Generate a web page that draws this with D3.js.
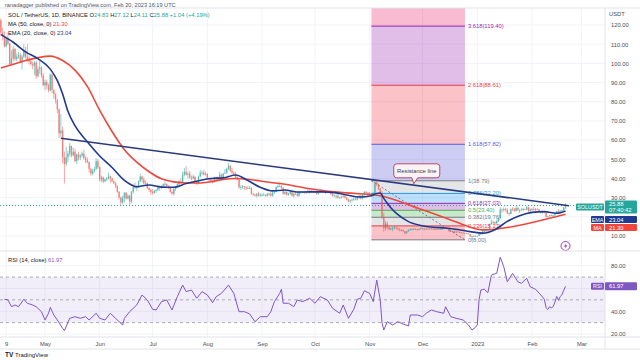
<!DOCTYPE html>
<html>
<head>
<meta charset="utf-8">
<script src="https://cdn.jsdelivr.net/npm/d3@7"></script>
<style>
  html, body { margin: 0; padding: 0; background: #fff; }
  svg { display: block; font-family: 'Liberation Sans', Arial, sans-serif; }
</style>
</head>
<body>
<div id="chart"></div>
<script>
// ── SOL / TetherUS 1D — candles, MA50, EMA20, fib, RSI ─────────────

// Daily candles from 2022-04-06 to 2023-02-20 (open = previous close)
const firstDay = '2022-04-06';
const firstOpen = 122.5;

const closes = [
  116.0,114.3,108.9,113.2,110.3,99.6,102.5,107.4,102.3,103.6,104.2,100.8,103.5,106.5,103.5,101.8,101.0,99.6,98.9,100.4,93.3,97.0,97.9,93.6,88.6,
  90.2,88.6,85.9,94.1,86.1,84.0,80.8,76.0,63.5,65.0,51.0,47.5,51.0,53.0,57.0,52.0,54.0,49.0,52.5,51.0,52.0,53.0,50.5,49.5,48.5,45.0,42.5,44.0,45.0,49.0,45.8,
  39.5,40.5,38.5,39.5,40.0,41.0,40.0,38.5,37.5,36.0,33.0,30.0,27.5,30.0,32.5,29.5,31.0,28.0,33.0,35.5,35.0,35.5,38.5,41.0,39.5,37.5,37.5,35.0,34.0,33.0,
  32.5,33.5,34.0,36.0,35.0,36.0,37.0,37.0,36.0,35.0,33.0,32.0,34.5,35.5,37.0,38.5,38.0,42.0,43.5,42.0,42.5,40.5,40.0,41.0,38.5,37.5,41.0,43.0,43.0,42.0,42.5,
  40.0,39.5,38.5,38.0,40.5,39.5,40.5,42.0,40.5,42.5,43.0,45.0,46.5,44.0,43.0,42.0,40.5,39.5,35.5,35.5,36.0,35.5,35.0,35.0,35.0,32.0,31.5,31.0,32.0,31.0,31.5,
  31.5,31.5,31.0,32.0,32.0,31.0,32.5,33.0,35.5,36.0,36.0,35.0,32.0,33.0,31.5,32.0,33.0,31.0,32.0,32.0,31.0,33.0,33.0,33.0,32.5,33.0,33.0,33.5,33.5,33.0,
  33.0,32.0,33.0,34.0,33.5,33.0,32.5,33.0,33.0,32.0,31.0,31.0,31.0,30.0,30.0,30.5,31.0,30.0,29.0,28.0,28.5,29.0,29.5,29.0,30.0,31.0,29.5,31.5,33.0,32.5,32.0,
  32.0,31.0,32.5,38.0,37.0,34.5,32.5,20.0,14.0,16.5,14.5,13.5,14.0,14.0,14.5,14.0,13.5,13.0,13.0,12.5,11.5,12.5,13.0,13.5,13.5,13.7,13.5,13.2,13.7,14.0,
  13.5,13.8,13.4,13.8,13.7,13.8,13.3,13.7,13.5,13.6,13.6,13.8,14.2,14.1,13.8,12.5,12.6,12.5,11.8,12.3,12.1,11.8,11.7,11.6,11.5,11.3,11.0,9.8,10.0,10.1,10.0,
  10.0,11.2,11.0,12.4,12.5,13.3,13.4,16.2,17.0,17.3,16.6,17.8,19.4,23.8,23.6,24.0,23.6,21.9,21.5,24.1,23.8,23.1,24.6,23.6,23.6,23.9,24.1,23.8,25.0,23.0,24.0,
  23.9,23.7,24.1,24.0,22.9,22.0,22.9,22.1,20.0,20.3,20.9,20.6,20.7,21.8,23.0,22.1,23.1,23.4,24.83,25.88
];

const highs = [
  123.5,118.6,116.6,114.0,116.0,110.6,106.8,109.0,108.0,105.2,106.0,105.5,104.5,110.0,108.5,110.0,104.0,102.3,101.0,101.2,101.5,98.5,101.5,98.5,95.0,
  91.5,91.5,89.5,94.8,94.7,86.5,84.5,81.5,76.5,73.5,67.0,54.0,56.5,54.5,58.5,57.0,56.0,55.5,53.0,54.0,52.8,54.0,55.0,51.5,51.0,49.0,45.5,44.8,46.0,50.5,50.0,
  46.5,41.5,41.0,40.0,40.8,43.0,41.5,40.5,39.0,38.0,36.5,33.5,30.5,31.0,33.0,33.0,32.0,31.5,33.5,37.0,38.0,36.5,39.0,42.5,41.5,40.5,39.0,38.0,35.5,34.5,
  34.5,34.0,34.5,36.5,36.5,36.5,37.5,38.5,37.5,36.5,35.0,33.5,35.0,36.0,37.5,39.0,40.0,43.5,45.5,46.5,43.5,44.0,41.5,42.0,41.0,38.5,41.5,44.5,44.0,44.5,43.5,
  42.5,40.5,40.0,39.5,41.0,41.0,41.0,43.5,42.5,43.0,45.0,45.5,48.0,47.0,45.5,43.5,43.5,41.0,39.5,36.5,36.5,36.0,36.0,36.0,36.0,35.5,32.5,32.0,32.5,33.0,32.5,
  32.0,32.5,31.5,32.5,32.5,33.0,33.0,33.5,36.0,37.0,38.0,36.5,35.5,33.5,33.5,32.5,33.5,33.0,32.5,33.0,33.0,33.5,33.5,33.5,33.5,33.5,34.5,34.0,34.0,34.5,
  33.5,33.5,33.5,34.5,34.5,34.0,33.5,33.5,33.5,33.5,32.5,31.5,31.5,32.0,30.5,31.0,31.5,31.5,30.5,29.5,29.0,29.5,30.0,30.0,30.5,31.5,31.5,32.0,33.5,33.5,33.0,
  33.0,32.5,33.0,38.5,38.79,37.5,35.0,33.5,22.0,18.0,17.5,15.0,14.5,15.0,15.5,14.5,14.5,14.0,13.5,13.5,12.5,12.7,13.5,14.0,14.0,14.2,14.0,13.7,14.0,14.5,
  14.2,14.0,14.0,14.0,14.2,14.0,13.9,13.8,13.8,13.8,13.8,13.9,14.5,14.5,14.2,13.9,12.8,12.7,12.6,12.5,12.4,12.2,12.0,11.8,11.7,11.6,11.5,11.0,10.3,10.3,10.3,
  10.1,11.6,11.6,13.5,13.0,13.5,14.0,16.5,18.5,18.0,17.5,18.6,19.6,25.0,24.3,24.9,24.8,24.5,22.3,24.3,25.0,24.6,25.5,25.4,24.0,24.5,24.6,24.2,25.6,25.2,24.4,
  24.6,25.2,24.6,24.4,24.1,23.2,23.1,23.0,22.3,20.6,21.0,21.1,20.9,22.0,23.2,23.9,23.5,23.8,25.3,27.12
];

const lows = [
  114.5,112.0,108.2,108.5,109.5,98.5,99.0,101.0,101.2,101.0,102.5,100.2,96.7,102.7,102.5,100.8,99.5,98.8,97.0,94.0,92.0,92.6,94.5,92.5,88.0,
  86.0,86.6,85.0,85.5,84.5,81.5,79.0,74.0,61.0,61.5,48.0,37.4,46.5,48.5,51.5,51.0,51.5,48.5,47.5,49.5,49.5,51.0,50.0,48.0,48.0,43.0,41.5,41.5,43.0,44.5,45.0,
  38.5,38.0,37.5,38.0,38.5,39.5,37.5,38.0,37.0,35.0,32.5,29.0,26.0,26.5,27.5,29.0,29.0,26.0,27.0,32.0,34.5,33.5,35.0,38.0,38.0,37.0,36.5,34.5,33.0,31.5,
  31.5,32.0,32.5,33.5,33.5,34.5,35.5,36.0,35.5,34.5,32.5,31.5,31.0,33.5,35.0,36.0,37.5,37.5,41.0,41.5,40.0,40.0,39.0,39.5,38.0,36.5,37.0,40.5,42.0,41.5,41.5,
  39.5,38.0,38.0,37.5,38.0,39.0,39.0,40.5,40.0,39.5,42.5,42.5,44.5,43.5,42.0,41.5,40.0,39.0,34.5,34.0,34.5,34.0,34.0,34.5,34.5,31.5,31.0,30.5,30.0,30.5,30.5,
  30.5,31.0,30.5,30.5,31.0,30.5,30.5,32.0,33.0,35.0,35.5,34.5,31.5,31.5,31.0,31.0,31.5,30.5,30.0,31.5,30.5,30.5,32.0,32.5,32.0,32.0,32.5,32.0,32.5,32.5,
  32.5,31.5,31.5,32.5,32.5,32.5,32.0,32.5,32.5,31.5,30.5,30.5,29.5,29.5,29.5,29.5,30.0,29.5,28.5,27.5,27.0,28.0,28.5,28.5,28.5,29.5,29.0,29.0,31.0,32.0,31.0,
  31.5,30.5,30.5,32.0,36.0,34.0,31.5,19.0,12.2,13.0,13.5,13.0,13.0,12.5,13.5,13.5,13.0,12.5,12.5,12.0,11.0,11.2,12.2,12.8,13.0,13.2,13.2,12.8,13.0,13.5,
  13.3,13.2,13.2,13.3,13.5,13.5,13.1,13.1,13.3,13.4,13.4,13.3,13.6,13.9,13.6,12.2,12.2,12.2,11.6,11.7,11.9,11.5,11.5,11.5,11.3,11.1,10.8,9.6,8.0,9.5,9.8,
  9.7,9.9,10.6,10.9,12.0,12.1,13.1,13.3,15.9,16.2,16.0,16.3,17.2,19.2,22.0,22.7,22.8,21.3,20.6,21.3,23.1,22.6,22.7,23.0,21.9,23.2,23.0,23.4,23.6,22.5,22.8,
  22.8,23.4,22.9,23.5,22.6,21.7,21.7,21.8,19.7,19.6,20.1,20.3,19.9,20.5,21.5,21.9,21.6,23.0,23.3,24.11
];

// MA (50) and EMA (20): [candle index, value]
const maPoints = [
  [0,97.6],[7,99.5],[14,101.5],[21,103.0],[28,103.8],[35,101.5],[42,96.5],[49,88.0],[56,75.5],[63,64.5],
  [70,55.0],[77,48.5],[84,43.5],[91,39.8],[98,38.2],[105,37.6],[112,37.6],[119,38.3],[126,39.5],[133,40.0],
  [140,39.6],[147,38.7],[154,37.8],[161,37.0],[168,35.8],[175,34.6],[182,33.7],[189,33.0],[196,32.5],[203,32.0],
  [210,31.6],[217,30.6],[224,28.6],[231,26.3],[238,24.0],[245,21.7],[252,19.4],[259,17.0],[266,14.6],[273,13.2],
  [280,13.5],[287,14.4],[294,15.6],[301,17.0],[308,18.6],[315,20.2],[320,21.30]
];
const emaPoints = [
  [0,115.0],[7,111.0],[14,106.0],[21,102.5],[28,97.0],[32,91.0],[35,84.0],[38,75.0],[42,67.5],[49,59.1],
  [56,51.7],[63,45.7],[70,39.0],[77,35.7],[84,36.6],[91,35.5],[98,35.4],[105,37.4],[112,38.8],[119,40.0],
  [126,40.3],[133,41.8],[140,38.9],[147,35.4],[154,33.5],[161,34.0],[168,32.9],[175,33.0],[182,33.0],[189,32.6],
  [196,31.4],[203,30.3],[210,31.0],[213,32.2],[215,32.4],[217,29.6],[219,27.1],[221,24.7],[224,21.9],[231,17.5],
  [238,15.5],[245,14.55],[252,14.2],[259,13.35],[266,12.3],[273,11.5],[280,13.3],[287,17.6],[294,20.5],[301,22.3],
  [308,22.7],[315,21.85],[320,23.04]
];

// RSI (14): [candle index, value]
const rsiPoints = [
  [2,50.5],[4,49.9],[6,44],[8,45.5],[10,44],[13,50.5],[15,47],[18,45.5],[20,44],[23,39.6],
  [25,32.3],[27,38.2],[28,43.4],[30,36.7],[32,32.3],[35,25],[36,22.9],[39,33.8],[42,35.2],[45,33.8],
  [48,35.2],[50,32.3],[54,38.2],[56,33.8],[59,32.3],[62,38.2],[65,33.8],[69,27.9],[70,33.8],[73,39.6],
  [77,45.5],[80,54.3],[83,49.9],[86,41.7],[88,41.1],[91,48.4],[94,49.9],[97,41.1],[100,52.8],[103,63],
  [105,57.2],[108,58.6],[111,51.4],[114,57.2],[117,54.3],[120,47.5],[122,52.8],[125,55.7],[129,63],[132,55.7],
  [135,39.6],[138,39.6],[141,37.6],[144,30.8],[147,35.2],[151,35.2],[153,39.6],[155,48.4],[158,55.7],[159,59.3],
  [160,47],[163,47],[166,44],[168,49.9],[171,48.4],[175,51.4],[178,47],[181,52.8],[185,49.9],[188,42.6],
  [192,38.2],[194,45.5],[197,33.8],[200,41.7],[202,50.5],[204,51.4],[206,58],[209,55.7],[211,48.4],[213,67.4],
  [215,49.9],[216,30],[217,23.5],[219,30.8],[222,27.9],[225,30.8],[228,28.8],[231,27],[232,36.7],[236,36.7],
  [239,35.2],[241,38.2],[244,41.1],[247,39.6],[251,38.2],[252,44],[255,35.2],[258,33.8],[262,32.3],[265,27.9],
  [267,23.5],[269,25.9],[270,28],[271,50],[272,58.6],[274,59.3],[276,56.3],[278,71.8],[281,73.3],[283,87.4],
  [285,79.1],[287,65.9],[290,73.3],[293,65.9],[295,64.5],[298,68.9],[300,61.5],[303,59.3],[306,54.3],[308,50.5],
  [309,43],[310,41.5],[311,44],[312,43],[313,44],[314,48],[315,53],[316,49.5],[317,53],[318,54.5],
  [319,58.5],[320,61.97]
];

// Fib retracement / extension levels drawn on the chart
const fibLevels = ['0', '0.236', '0.382', '0.5', '0.618', '0.786', '1', '1.618', '2.618', '3.618', '4.236'];
const fibPrices = [8.00, 15.27, 19.76, 23.40, 27.03, 32.20, 38.79, 57.82, 88.61, 119.40, 138.43];
const fibColors = ['#787b86', '#f23645', '#787b86', '#4caf50', '#9c27b0', '#2196f3', '#787b86', '#5b5bd6', '#f23645', '#9c27b0', '#e91e63'];
const fibSpan = ['2022-11-02', '2022-12-25'];

// Trend line and its note
const resistance = [['2022-05-10', 60.9], ['2023-02-22', 25.8]];
const calloutAt = ['2022-11-26', 37.2];
const calloutText = 'Resistance line';

// Axes
const priceTicks = [10, 20, 30, 40, 50, 60, 70, 80, 90, 100, 110, 120];
const rsiTicks = [20, 40, 60, 80];
const rsiBands = [70, 50, 30];
const timeTicks = ['2022-04-09', '2022-05-01', '2022-06-01', '2022-07-01', '2022-08-01', '2022-09-01',
                   '2022-10-01', '2022-11-01', '2022-12-01', '2023-01-01', '2023-02-01', '2023-03-01'];
const timeLabels = ['9', 'May', 'Jun', 'Jul', 'Aug', 'Sep', 'Oct', 'Nov', 'Dec', '2023', 'Feb', 'Mar'];

const lastPrice = 25.88, lastEma = 23.04, lastMa = 21.30, lastRsi = 61.97;

// ── layout ───────────────────────────────────────────────
const W = 640, H = 360;
const paneRight = 605;
const mainTop = 8, mainBottom = 250, rsiTop = 252, rsiBottom = 337;
const UP = '#26a69a', DOWN = '#ef5350', MA_C = '#f0473a', EMA_C = '#1f3a8f', RSI_C = '#7e57c2';
const GRID = '#f0f3fa', BORDER = '#e0e3eb', TXT = '#4a4d57';

const parseDate = d3.utcParse('%Y-%m-%d');
const start = parseDate(firstDay);
const candles = closes.map((c, i) => ({
    date: d3.utcDay.offset(start, i),
    open: i ? closes[i - 1] : firstOpen,
    high: highs[i], low: lows[i], close: c
}));
const dateAt = i => candles[i].date;

const x = d3.scaleUtc()
    .domain([new Date('2022-04-05T12:00:00Z'), new Date('2023-03-14T09:00:00Z')])
    .range([0, paneRight]);
const y = d3.scaleLinear().domain([10, 120]).range([236, 25]);
const yR = d3.scaleLinear().domain([20, 80]).range([334, 265.7]);

const svg = d3.select('#chart').append('svg')
    .attr('width', W).attr('height', H)
    .attr('viewBox', [0, 0, W, H]);

const defs = svg.append('defs');
defs.append('clipPath').attr('id', 'clipMain').append('rect')
    .attr('x', 0).attr('y', mainTop).attr('width', paneRight).attr('height', mainBottom - mainTop);
defs.append('clipPath').attr('id', 'clipRsi').append('rect')
    .attr('x', 0).attr('y', rsiTop).attr('width', paneRight).attr('height', rsiBottom - rsiTop);

// Grid
const grid = svg.append('g');
grid.selectAll('line.h').data(priceTicks).join('line')
    .attr('x1', 0).attr('x2', paneRight)
    .attr('y1', d => y(d)).attr('y2', d => y(d))
    .attr('stroke', GRID);
grid.selectAll('line.v').data(timeTicks).join('line')
    .attr('x1', d => x(parseDate(d))).attr('x2', d => x(parseDate(d)))
    .attr('y1', mainTop).attr('y2', rsiBottom)
    .attr('stroke', GRID);
grid.selectAll('line.r').data(rsiTicks).join('line')
    .attr('x1', 0).attr('x2', paneRight)
    .attr('y1', d => yR(d)).attr('y2', d => yR(d))
    .attr('stroke', GRID);

// ── main pane ────────────────────────────────────────────
const main = svg.append('g').attr('clip-path', 'url(#clipMain)');

// Fib zones
const fx0 = x(parseDate(fibSpan[0])), fx1 = x(parseDate(fibSpan[1]));
const fib = main.append('g');
fib.selectAll('rect').data(fibPrices.slice(1)).join('rect')
    .attr('x', fx0).attr('width', fx1 - fx0)
    .attr('y', d => y(d))
    .attr('height', (d, i) => y(fibPrices[i]) - y(d))
    .attr('fill', (d, i) => fibColors[i + 1])
    .attr('fill-opacity', (d, i) => fibColors[i + 1] === '#787b86' ? 0.2 : 0.3);
fib.selectAll('line').data(fibPrices).join('line')
    .attr('x1', fx0).attr('x2', fx1)
    .attr('y1', d => y(d)).attr('y2', d => y(d))
    .attr('stroke', (d, i) => fibColors[i]).attr('stroke-width', 1);
fib.append('line')
    .attr('x1', fx0).attr('y1', y(fibPrices[6]))
    .attr('x2', fx1).attr('y2', y(fibPrices[0]))
    .attr('stroke', '#787b86').attr('stroke-width', 1).attr('stroke-dasharray', '2,2');
fib.selectAll('text').data(fibPrices.slice(0, 10)).join('text')
    .attr('x', fx1 + 3).attr('y', d => y(d) + 2)
    .attr('font-size', 5.8)
    .attr('fill', (d, i) => fibColors[i])
    .text((d, i) => `${fibLevels[i]}(${d.toFixed(2)})`);

// Last price dotted line
main.append('line')
    .attr('x1', 0).attr('x2', paneRight)
    .attr('y1', y(lastPrice)).attr('y2', y(lastPrice))
    .attr('stroke', UP).attr('stroke-dasharray', '1,2');

// Candles (slightly faded, as in the published snapshot)
const cg = main.append('g').attr('opacity', 0.75);
cg.selectAll('line').data(candles).join('line')
    .attr('x1', d => x(d.date)).attr('x2', d => x(d.date))
    .attr('y1', d => y(d.high)).attr('y2', d => y(d.low))
    .attr('stroke', d => d.close >= d.open ? UP : DOWN)
    .attr('stroke-width', 0.7);
cg.selectAll('rect').data(candles).join('rect')
    .attr('x', d => x(d.date) - 0.65).attr('width', 1.3)
    .attr('y', d => y(Math.max(d.open, d.close)))
    .attr('height', d => Math.max(0.8, Math.abs(y(d.open) - y(d.close))))
    .attr('fill', d => d.close >= d.open ? UP : DOWN);

// MA / EMA
const avgLine = d3.line().x(d => x(dateAt(d[0]))).y(d => y(d[1])).curve(d3.curveMonotoneX);
main.append('path').datum(maPoints).attr('d', avgLine)
    .attr('fill', 'none').attr('stroke', MA_C).attr('stroke-width', 1.6);
main.append('path').datum(emaPoints).attr('d', avgLine)
    .attr('fill', 'none').attr('stroke', EMA_C).attr('stroke-width', 1.6);

// Resistance line
main.append('line')
    .attr('x1', x(parseDate(resistance[0][0]))).attr('y1', y(resistance[0][1]))
    .attr('x2', x(parseDate(resistance[1][0]))).attr('y2', y(resistance[1][1]))
    .attr('stroke', '#2a3a7a').attr('stroke-width', 1.5);

// Callout
const tipX = x(parseDate(calloutAt[0])), tipY = y(calloutAt[1]);
const bw = 46, bh = 14, bx = tipX + 3 - bw / 2, by = tipY - 6 - bh;
const callout = main.append('g');
callout.append('path')
    .attr('d', `M${bx + 3},${by} H${bx + bw - 3} Q${bx + bw},${by} ${bx + bw},${by + 3} V${by + bh - 3} Q${bx + bw},${by + bh} ${bx + bw - 3},${by + bh}
               H${tipX + 4} L${tipX},${tipY} L${tipX - 2},${by + bh} H${bx + 3} Q${bx},${by + bh} ${bx},${by + bh - 3} V${by + 3} Q${bx},${by} ${bx + 3},${by} Z`)
    .attr('fill', '#fdf3f5').attr('stroke', '#b03a5b').attr('stroke-width', 0.9);
callout.append('text')
    .attr('x', bx + bw / 2).attr('y', by + bh / 2 + 2)
    .attr('text-anchor', 'middle').attr('font-size', 5.8).attr('fill', '#3a3d45')
    .text(calloutText);

// Lightning marker at last bar
const lx = x(dateAt(candles.length - 1)), ly = mainBottom - 4;
svg.append('circle').attr('cx', lx).attr('cy', ly).attr('r', 4.5)
    .attr('fill', '#fff').attr('stroke', '#9c27b0').attr('stroke-width', 0.9);
svg.append('path')
    .attr('d', `M${lx + 0.8},${ly - 3} L${lx - 1.6},${ly + 0.4} H${lx + 0.2} L${lx - 0.8},${ly + 3} L${lx + 1.8},${ly - 0.6} H${lx}Z`)
    .attr('fill', '#9c27b0');

// ── RSI pane ─────────────────────────────────────────────
const rsiG = svg.append('g').attr('clip-path', 'url(#clipRsi)');
rsiG.append('rect')
    .attr('x', 0).attr('width', paneRight)
    .attr('y', yR(70)).attr('height', yR(30) - yR(70))
    .attr('fill', RSI_C).attr('fill-opacity', 0.1);
rsiG.selectAll('line').data(rsiBands).join('line')
    .attr('x1', 0).attr('x2', paneRight)
    .attr('y1', d => yR(d)).attr('y2', d => yR(d))
    .attr('stroke', '#9598a1').attr('stroke-dasharray', '3,3').attr('stroke-width', 0.8);
rsiG.append('path').datum(rsiPoints)
    .attr('d', d3.line().x(d => x(dateAt(d[0]))).y(d => yR(d[1])))
    .attr('fill', 'none').attr('stroke', RSI_C).attr('stroke-width', 1);

// ── frame ────────────────────────────────────────────────
const frame = svg.append('g').attr('stroke', BORDER);
frame.append('line').attr('x1', 0).attr('x2', W).attr('y1', mainTop).attr('y2', mainTop);
frame.append('line').attr('x1', 0).attr('x2', W).attr('y1', mainBottom + 1).attr('y2', mainBottom + 1);
frame.append('line').attr('x1', 0).attr('x2', W).attr('y1', rsiBottom).attr('y2', rsiBottom);
frame.append('line').attr('x1', 0).attr('x2', W).attr('y1', 349).attr('y2', 349);
frame.append('line').attr('x1', paneRight).attr('x2', paneRight).attr('y1', mainTop).attr('y2', 349);

// ── axes ─────────────────────────────────────────────────
const fmt = d3.format('.2f');
const busyMain = [201, 231], busyRsi = [282, 292];

const yAxis = svg.append('g').attr('transform', `translate(${paneRight + 3},0)`)
    .call(d3.axisRight(y)
        .tickValues(priceTicks.filter(v => y(v) < busyMain[0] || y(v) > busyMain[1]))
        .tickFormat(fmt).tickSize(0));
const rAxis = svg.append('g').attr('transform', `translate(${paneRight + 3},0)`)
    .call(d3.axisRight(yR)
        .tickValues(rsiTicks.filter(v => yR(v) < busyRsi[0] || yR(v) > busyRsi[1]))
        .tickFormat(fmt).tickSize(0));
const tAxis = svg.append('g').attr('transform', `translate(0,${rsiBottom + 2})`)
    .call(d3.axisBottom(x)
        .tickValues(timeTicks.map(parseDate))
        .tickFormat((d, i) => timeLabels[i]).tickSize(0));
[yAxis, rAxis, tAxis].forEach(a => {
    a.select('.domain').remove();
    a.selectAll('text').attr('font-size', 5.8).attr('fill', TXT)
        .attr('font-family', "'Liberation Sans', Arial, sans-serif");
});
svg.append('text').attr('x', paneRight + 4).attr('y', 16)
    .attr('font-size', 5.8).attr('fill', TXT).text('USDT');

// Value tags on the price scale
function tag(yc, h, fill, name, lines) {
    const g = svg.append('g');
    g.append('rect').attr('x', paneRight).attr('y', yc - h / 2).attr('width', 32).attr('height', h)
        .attr('fill', fill).attr('rx', 1);
    lines.forEach((t, i) => g.append('text')
        .attr('x', paneRight + 4).attr('y', yc + 2 + (i - (lines.length - 1) / 2) * 6)
        .attr('font-size', 5.8).attr('fill', '#fff').text(t));
    const nw = name.length > 3 ? 28 : 13;
    g.append('rect').attr('x', paneRight - nw - 1).attr('y', yc - 3.5).attr('width', nw).attr('height', 7)
        .attr('fill', fill).attr('rx', 1);
    g.append('text').attr('x', paneRight - 1 - nw / 2).attr('y', yc + 2)
        .attr('text-anchor', 'middle').attr('font-size', 5.4).attr('fill', '#fff').text(name);
}
const pY = y(lastPrice) + 1.5;
tag(pY, 13, UP, 'SOLUSDT', [fmt(lastPrice), '07:40:42']);
tag(pY + 12.5, 7, EMA_C, 'EMA', [fmt(lastEma)]);
tag(pY + 20.5, 7, MA_C, 'MA', [fmt(lastMa)]);
tag(yR(lastRsi), 8, RSI_C, 'RSI', [fmt(lastRsi)]);

// ── legends ──────────────────────────────────────────────
function legend(yy, parts, size) {
    const t = svg.append('text').attr('x', 8).attr('y', yy).attr('font-size', size || 5.8);
    parts.forEach(([s, c]) => t.append('tspan').attr('fill', c).text(s));
}
svg.append('text').attr('x', 5).attr('y', 6.5).attr('font-size', 5.6).attr('fill', '#50535e')
    .text('ranadagger published on TradingView.com, Feb 20, 2023 16:19 UTC');
legend(17, [['SOL / TetherUS, 1D, BINANCE  ', '#131722'], ['O', '#131722'], ['24.83', UP], ['  H', '#131722'], ['27.12', UP],
            ['  L', '#131722'], ['24.11', UP], ['  C', '#131722'], ['25.88', UP], ['  +1.04 (+4.19%)', UP]]);
legend(26, [['MA (50, close, 0)  ', '#131722'], [fmt(lastMa), MA_C]]);
legend(34.5, [['EMA (20, close, 0)  ', '#131722'], [fmt(lastEma), EMA_C]]);
legend(262, [['RSI (14, close)  ', '#131722'], [fmt(lastRsi), RSI_C]]);

// TradingView mark
svg.append('text').attr('x', 5).attr('y', 356.5).attr('font-size', 6.5).attr('font-weight', 'bold')
    .attr('fill', '#131722').text('TV');
svg.append('text').attr('x', 15).attr('y', 356.5).attr('font-size', 6).attr('fill', '#131722')
    .text('TradingView');
</script>
</body>
</html>
